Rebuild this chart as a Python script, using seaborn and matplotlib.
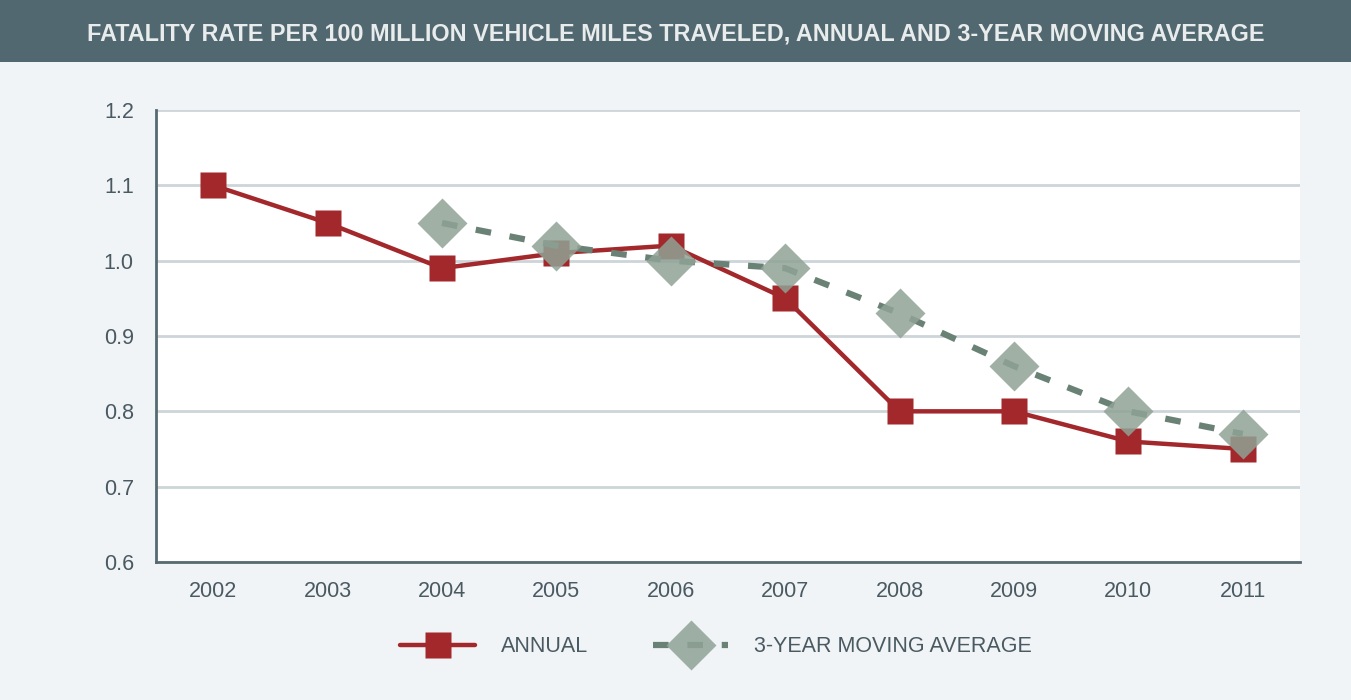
import matplotlib
matplotlib.use("Agg")
import matplotlib.pyplot as plt
import seaborn as sns
import pandas as pd
import numpy as np
from matplotlib.lines import Line2D

years = ["2002", "2003", "2004", "2005", "2006", "2007", "2008", "2009", "2010", "2011"]
annual = [1.10, 1.05, 0.99, 1.01, 1.02, 0.95, 0.80, 0.80, 0.76, 0.75]
moving_avg = [np.nan, np.nan, 1.05, 1.02, 1.00, 0.99, 0.93, 0.86, 0.80, 0.77]
y_ticks = [0.6, 0.7, 0.8, 0.9, 1.0, 1.1, 1.2]
title = "FATALITY RATE PER 100 MILLION VEHICLE MILES TRAVELED, ANNUAL AND 3-YEAR MOVING AVERAGE"

sns.set_theme(style="white")
plt.rcParams["font.family"] = ["Liberation Sans", "DejaVu Sans"]

BG = "#f1f4f6"
BAR = "#526870"
RED = "#a3282b"
DIAMOND = (0x8f / 255, 0xa3 / 255, 0x96 / 255, 0.85)
DASH = "#6a8276"
GRID = "#cdd5d9"
AXIS = "#566a72"
TXT = "#4a5a62"

df = pd.DataFrame({"pos": np.arange(len(years)), "year": years,
                   "annual": annual, "ma": moving_avg})

fig = plt.figure(figsize=(13.51, 7.0), dpi=100, facecolor=BG)
# title bar
fig.patches.append(plt.Rectangle((0, 1 - 62 / 700), 1, 62 / 700, transform=fig.transFigure,
                                 facecolor=BAR, edgecolor="none", zorder=0))
fig.text(0.5, 1 - 34 / 700, title, ha="center", va="center", color="#e9ecec",
         fontsize=16.8, fontweight="bold")

ax = fig.add_axes([156 / 1351, 1 - 562 / 700, (1300 - 156) / 1351, (562 - 110) / 700])
ax.set_facecolor("white")

sns.lineplot(data=df, x="pos", y="ma", ax=ax, color=DASH, linewidth=4.5,
             linestyle=(0, (2.5, 3)), marker="D", markersize=25,
             markerfacecolor=DIAMOND, markeredgecolor="none", zorder=3)
sns.lineplot(data=df, x="pos", y="annual", ax=ax, color=RED, linewidth=3.2,
             marker="s", markersize=19, markerfacecolor=RED, markeredgecolor="none", zorder=2)

ax.set_xlim(-0.5, len(years) - 0.5)
ax.set_ylim(0.6, 1.2)
ax.set_yticks(y_ticks)
ax.set_yticklabels([f"{v:.1f}" for v in y_ticks])
ax.set_xticks(np.arange(len(years)))
ax.set_xticklabels(years)
ax.set_xticks(np.arange(-0.5, len(years)), minor=True)
ax.tick_params(axis="x", which="major", length=0, pad=14, labelsize=15.5, labelcolor=TXT)
ax.tick_params(axis="x", which="minor", length=12, width=2, color=AXIS, direction="out")
ax.tick_params(axis="y", length=10, width=1.5, color=GRID, labelsize=15.5, labelcolor=TXT, pad=6)
ax.grid(axis="y", color=GRID, linewidth=2)
ax.set_axisbelow(True)
for s in ["top", "right"]:
    ax.spines[s].set_visible(False)
for s in ["left", "bottom"]:
    ax.spines[s].set_color(AXIS)
    ax.spines[s].set_linewidth(2)
ax.set_xlabel("")
ax.set_ylabel("")

handles = [
    Line2D([], [], color=RED, linewidth=3.2, marker="s", markersize=19,
           markerfacecolor=RED, markeredgecolor="none"),
    Line2D([], [], color=DASH, linewidth=4.5, linestyle=(0, (2.5, 3)), marker="D",
           markersize=25, markerfacecolor=DIAMOND, markeredgecolor="none"),
]
fig.legend(handles, ["ANNUAL", "3-YEAR MOVING AVERAGE"], loc="center",
           bbox_to_anchor=(716 / 1351, 1 - 647 / 700), ncol=2, frameon=False,
           fontsize=15.5, labelcolor=TXT, handlelength=3.5, columnspacing=3.0,
           handletextpad=1.2)

fig.savefig("out.png", dpi=100, facecolor=BG)
